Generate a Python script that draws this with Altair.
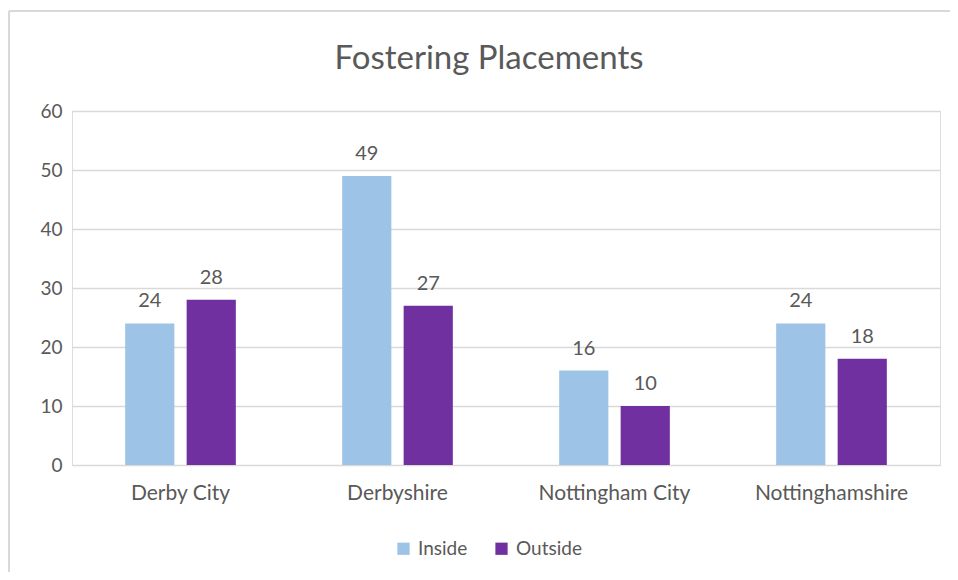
import altair as alt
import pandas as pd

regions = ["Derby City", "Derbyshire", "Nottingham City", "Nottinghamshire"]
inside = [24, 49, 16, 24]
outside = [28, 27, 10, 18]
series = ["Inside", "Outside"]
colors = ["#9DC3E6", "#7030A0"]

rows = []
for r, a, b in zip(regions, inside, outside):
    rows.append({"Region": r, "Placement": "Inside", "Count": a})
    rows.append({"Region": r, "Placement": "Outside", "Count": b})
df = pd.DataFrame(rows)

FONT = "Lato"
TXT = "#595959"

x = alt.X("Region:N", sort=regions, title=None,
          scale=alt.Scale(paddingInner=0.49, paddingOuter=0.245),
          axis=alt.Axis(labelAngle=0, domain=False, ticks=False, labelPadding=17,
                        labelFont=FONT, labelFontSize=21, labelColor=TXT))
xo = alt.XOffset("Placement:N", sort=series, scale=alt.Scale(paddingInner=0.2))
y = alt.Y("Count:Q", title=None,
          scale=alt.Scale(domain=[0, 60]),
          axis=alt.Axis(values=[0, 10, 20, 30, 40, 50, 60], domain=False, ticks=False,
                        labelPadding=10, labelFont=FONT, labelFontSize=19, labelColor=TXT,
                        gridColor="#D9D9D9", gridWidth=1.5))

color = alt.Color("Placement:N", sort=series,
                  scale=alt.Scale(domain=series, range=colors),
                  legend=alt.Legend(title=None, orient="none", direction="horizontal",
                                    legendX=322, legendY=428, symbolType="square",
                                    symbolSize=150, symbolStrokeWidth=0,
                                    labelFont=FONT, labelFontSize=19, labelColor=TXT,
                                    columnPadding=24, labelOffset=5))

bars = alt.Chart(df).mark_bar().encode(x=x, xOffset=xo, y=y, color=color)
labels = alt.Chart(df).mark_text(baseline="alphabetic", dy=-16, font=FONT, fontSize=20,
                                  color=TXT).encode(
    x=alt.X("Region:N", sort=regions), xOffset=alt.XOffset("Placement:N", sort=series),
    y="Count:Q", text="Count:Q")

border_top = alt.Chart(df).mark_rule(color="#D9D9D9", strokeWidth=1.5).encode(
    x=alt.value(-63), x2=alt.value(900), y=alt.value(-100))
border_left = alt.Chart(df).mark_rule(color="#D9D9D9", strokeWidth=1.5).encode(
    x=alt.value(-63), y=alt.value(-100), y2=alt.value(480))

chart = alt.layer(bars, labels, border_top, border_left).properties(
    width=868, height=354,
    padding={"left": 64, "top": 103, "right": 10, "bottom": 107},
    autosize=alt.AutoSizeParams(type="none"),
    title=alt.TitleParams("Fostering Placements", font=FONT, fontSize=33, fontWeight="normal",
                          color=TXT, anchor="middle", dx=-17, offset=-66),
).configure_view(stroke=None).configure(background="white")

chart.save("out.html", embed_options={"renderer": "svg", "actions": False})
